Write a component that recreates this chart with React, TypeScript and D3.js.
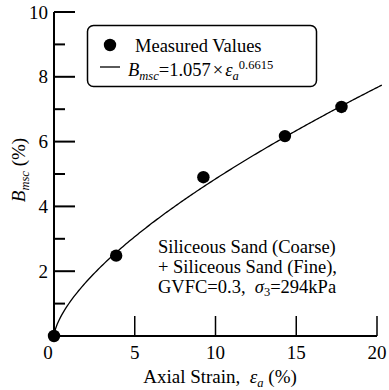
import React from "react";
import * as d3 from "d3";

const measuredStrain = [0, 3.85, 9.25, 14.3, 17.8];
const measuredB = [0, 2.48, 4.9, 6.17, 7.07];
const fitCoef = 1.057;
const fitExp = 0.6615;
const fitStrainMax = 20.3;
const fitSamples = 200;
const xTicks = [0, 5, 10, 15, 20];
const yMajorTicks = [0, 2, 4, 6, 8, 10];
const yMinorTicks = [1, 3, 5, 7, 9];
const annotationLines = [
  "Siliceous Sand (Coarse)",
  "+ Siliceous Sand (Fine),",
];

const W = 389;
const H = 390;
const FF = "'Liberation Serif'";
const ts = { fontFamily: FF };
const FS = 19;
const AFS = 18.5;
const SUB = 12.5;

export default function App() {
  const x = d3.scaleLinear().domain([0, 20]).range([54, 377]);
  const y = d3.scaleLinear().domain([0, 10]).range([336, 12]);

  const fitPts: [number, number][] = d3
    .range(fitSamples + 1)
    .map((i) => {
      const e = (fitStrainMax * i) / fitSamples;
      return [e, fitCoef * Math.pow(e, fitExp)] as [number, number];
    });
  const line = d3
    .line<[number, number]>()
    .x((d) => x(d[0]))
    .y((d) => y(d[1]));

  return (
    <svg width={W} height={H} style={{ position: "absolute", left: 0, top: 0 }}>
      <style>{"text, tspan { font-family: 'Liberation Serif', 'Times New Roman', serif; }"}</style>
      {/* axes */}
      <line x1={x(0)} y1={y(10)} x2={x(0)} y2={y(0) + 1} stroke="#000" strokeWidth={2} />
      <line x1={x(0) - 1} y1={y(0)} x2={x(20)} y2={y(0)} stroke="#000" strokeWidth={2} />
      {yMajorTicks.map((t) => (
        <g key={"ym" + t}>
          <line x1={x(0)} x2={x(0) + 21} y1={y(t)} y2={y(t)} stroke="#000" strokeWidth={2} />
          {t > 0 && (
            <text style={ts} fontFamily={FF} x={48} y={y(t) + 6.5} textAnchor="end" fontSize={FS}>
              {t}
            </text>
          )}
        </g>
      ))}
      {yMinorTicks.map((t) => (
        <line key={"yn" + t} x1={x(0)} x2={x(0) + 11} y1={y(t)} y2={y(t)} stroke="#000" strokeWidth={2} />
      ))}
      {xTicks.map((t) => (
        <g key={"x" + t}>
          {t > 0 && (
            <line x1={x(t)} x2={x(t)} y1={y(0)} y2={y(0) - 20} stroke="#000" strokeWidth={1.5} />
          )}
          <text style={ts} fontFamily={FF} x={t === 0 ? x(t) - 6 : x(t)} y={359} textAnchor="middle" fontSize={FS}>
            {t}
          </text>
        </g>
      ))}

      {/* axis titles */}
      <text style={ts} fontFamily={FF} x={220} y={383} textAnchor="middle" fontSize={FS}>
        Axial Strain,{"\u00a0\u00a0"}
        <tspan fontStyle="italic">ε</tspan>
        <tspan fontStyle="italic" fontSize={SUB} dy={4}>a</tspan>
        <tspan dy={-4}> (%)</tspan>
      </text>
      <text style={ts} fontFamily={FF} transform="translate(25,170) rotate(-90)" textAnchor="middle" fontSize={FS}>
        <tspan fontStyle="italic">B</tspan>
        <tspan fontStyle="italic" fontSize={SUB} dy={4}>msc</tspan>
        <tspan dy={-4}> (%)</tspan>
      </text>

      {/* fit curve */}
      <path d={line(fitPts) || ""} fill="none" stroke="#000" strokeWidth={1.3} />

      {/* points */}
      {measuredStrain.map((e, i) => (
        <circle key={"p" + i} cx={x(e)} cy={y(measuredB[i])} r={6.2} fill="#000" />
      ))}

      {/* legend */}
      <rect x={87.5} y={25.5} width={229} height={61} rx={6} fill="#fff" stroke="#000" strokeWidth={1.5} />
      <circle cx={110} cy={45} r={6.2} fill="#000" />
      <line x1={100} x2={120} y1={67} y2={67} stroke="#000" strokeWidth={1.3} />
      <text style={ts} fontFamily={FF} x={135} y={52} fontSize={AFS}>Measured Values</text>
      <text style={ts} fontFamily={FF} x={128} y={76} fontSize={AFS}>
        <tspan fontStyle="italic">B</tspan>
        <tspan fontStyle="italic" fontSize={SUB} dy={4}>msc</tspan>
        <tspan dy={-4}>=1.057</tspan>
        <tspan dx={2}>×</tspan>
        <tspan dx={2} fontStyle="italic">ε</tspan>
        <tspan fontStyle="italic" fontSize={SUB} dy={4}>a</tspan>
        <tspan fontSize={SUB} dy={-11}>0.6615</tspan>
      </text>

      {/* annotation */}
      {annotationLines.map((s, i) => (
        <text style={ts} fontFamily={FF} key={"a" + i} x={158} y={253 + i * 20} fontSize={AFS}>
          {s}
        </text>
      ))}
      <text style={ts} fontFamily={FF} x={158} y={253 + 2 * 20} fontSize={AFS}>
        GVFC=0.3,{"\u00a0\u00a0"}
        <tspan fontStyle="italic">σ</tspan>
        <tspan fontSize={SUB} dy={3}>3</tspan>
        <tspan dy={-3}>=294kPa</tspan>
      </text>
    </svg>
  );
}
